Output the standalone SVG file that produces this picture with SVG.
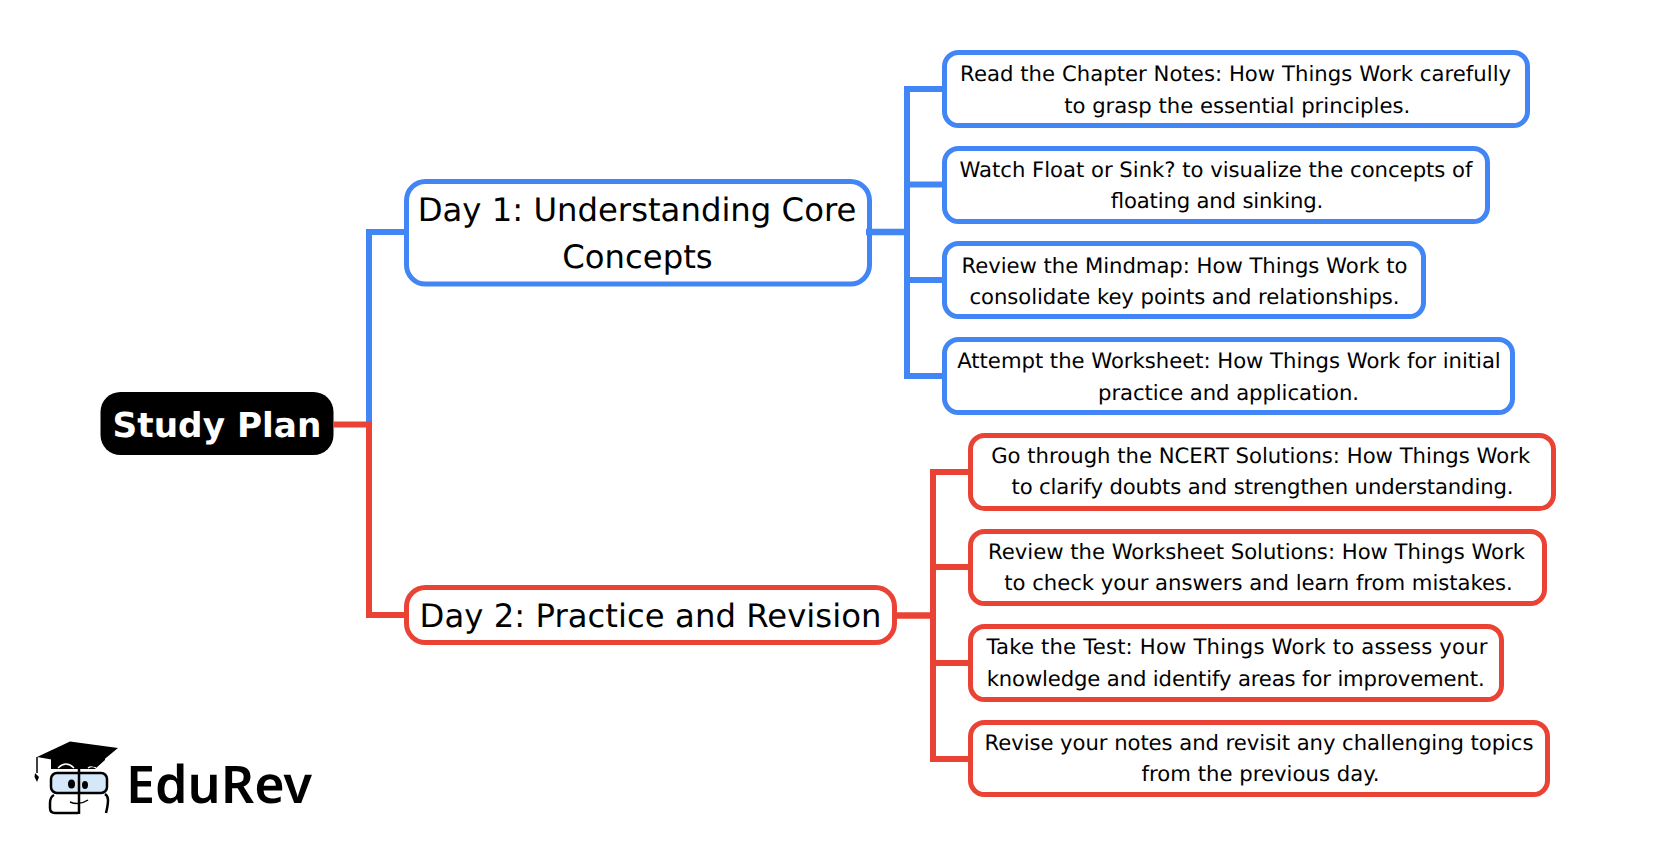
<svg xmlns="http://www.w3.org/2000/svg" width="1657" height="848" viewBox="0 0 1657 848">
<style>
text{font-family:"DejaVu Sans",sans-serif;text-anchor:middle;fill:#000;text-rendering:geometricPrecision}
.leaf{font-size:21.200px}
.mid{font-size:32.300px}
.b{fill:#fff;stroke:#4285f4;stroke-width:5}
.r{fill:#fff;stroke:#ea4335;stroke-width:5}
.cb{fill:none;stroke:#4285f4;stroke-width:6}
.cr{fill:none;stroke:#ea4335;stroke-width:6}
.t{stroke-width:6.500}
</style>
<rect width="1657" height="848" fill="#fff"/>
<g id="root"><rect x="100.500" y="392" width="233" height="63" rx="20" fill="#000"/><text x="217" y="436.500" font-size="34.300" font-weight="700" style="fill:#fff">Study Plan</text></g>
<g id="day1"><rect class="b" x="406.500" y="181.500" width="463" height="102.500" rx="19"/><text class="mid" x="637" y="221">Day 1: Understanding Core</text><text class="mid" x="637.500" y="268">Concepts</text></g>
<g id="day2"><rect class="r" x="406.500" y="587.500" width="488" height="55" rx="19"/><text class="mid" x="650.500" y="627" textLength="462">Day 2: Practice and Revision</text></g>
<g id="n1"><rect class="b" x="944.500" y="52.500" width="583" height="73" rx="14"/><text class="leaf" x="1235.600" y="81" textLength="551">Read the Chapter Notes: How Things Work carefully</text><text class="leaf" x="1237.200" y="113" textLength="346">to grasp the essential principles.</text></g>
<g id="n2"><rect class="b" x="944.500" y="148.500" width="543" height="73" rx="14"/><text class="leaf" x="1216" y="177" textLength="513">Watch Float or Sink? to visualize the concepts of</text><text class="leaf" x="1217" y="208" textLength="212.500">floating and sinking.</text></g>
<g id="n3"><rect class="b" x="944.500" y="243.500" width="479" height="73" rx="14"/><text class="leaf" x="1184.500" y="273" textLength="446">Review the Mindmap: How Things Work to</text><text class="leaf" x="1184.500" y="304" textLength="430">consolidate key points and relationships.</text></g>
<g id="n4"><rect class="b" x="944.500" y="339.500" width="568" height="73" rx="14"/><text class="leaf" x="1229" y="368" textLength="543.500">Attempt the Worksheet: How Things Work for initial</text><text class="leaf" x="1228.500" y="400" textLength="261">practice and application.</text></g>
<g id="n5"><rect class="r" x="970.500" y="435.500" width="583" height="73" rx="14"/><text class="leaf" x="1260.700" y="463.300" textLength="539">Go through the NCERT Solutions: How Things Work</text><text class="leaf" x="1262.500" y="494.300" textLength="502">to clarify doubts and strengthen understanding.</text></g>
<g id="n6"><rect class="r" x="970.500" y="531.500" width="574" height="72" rx="14"/><text class="leaf" x="1256.500" y="559.300" textLength="537">Review the Worksheet Solutions: How Things Work</text><text class="leaf" x="1258.500" y="590.300" textLength="508.600">to check your answers and learn from mistakes.</text></g>
<g id="n7"><rect class="r" x="970.500" y="626.500" width="531" height="73" rx="14"/><text class="leaf" x="1237" y="654.300" textLength="501">Take the Test: How Things Work to assess your</text><text class="leaf" x="1235.700" y="686.300" textLength="498">knowledge and identify areas for improvement.</text></g>
<g id="n8"><rect class="r" x="970.500" y="722.500" width="577" height="72" rx="14"/><text class="leaf" x="1259" y="750.300" textLength="549">Revise your notes and revisit any challenging topics</text><text class="leaf" x="1260.500" y="781.300" textLength="238">from the previous day.</text></g>
<g id="connectors">
<path class="cb" d="M369 424.500V232H409"/>
<path class="cb t" d="M866 232H907"/>
<path class="cb" d="M946.500 89H907V376H946.500M907 184.500H946.500M907 280H946.500"/>
<path class="cr" d="M333 424.500H369V615H409"/>
<path class="cr t" d="M892 615.500H933"/>
<path class="cr" d="M972.500 472H933V759H972.500M933 567H972.500M933 663H972.500"/>
</g>
<g id="logo">
<path d="M51 756V769L95 769L105 760V756Z" fill="#000"/>
<path d="M58 768Q66 760 74 768M88 768Q92 765 96 768" fill="none" stroke="#fff" stroke-width="1.500"/>
<rect x="51" y="773" width="56" height="20" rx="6" fill="#d5e8fa" stroke="#000" stroke-width="2.500"/>
<path d="M54 795Q50 797 50 803V808Q50 813 55 813H78M106 813Q108 805 108 800Q108 796 105 794" fill="none" stroke="#000" stroke-width="2.500"/>
<path d="M79 768V814" stroke="#000" stroke-width="2.500"/>
<path d="M37 757L70 741.500L118 748L95 767Z" fill="#000"/>
<path d="M37 757V773" stroke="#000" stroke-width="1.500"/>
<path d="M35 773L39 777L37 782L34.500 777Z" fill="#000"/>
<ellipse cx="71.500" cy="784" rx="3.500" ry="4.500" fill="#000"/><ellipse cx="85" cy="785" rx="3" ry="4" fill="#000"/>
<path d="M70 802Q79 806 88 800" fill="none" stroke="#000" stroke-width="1.500"/>
<text x="219" y="803" font-size="52" font-weight="600" style="font-family:'Noto Sans','Open Sans',sans-serif">EduRev</text>
</g>
</svg>
